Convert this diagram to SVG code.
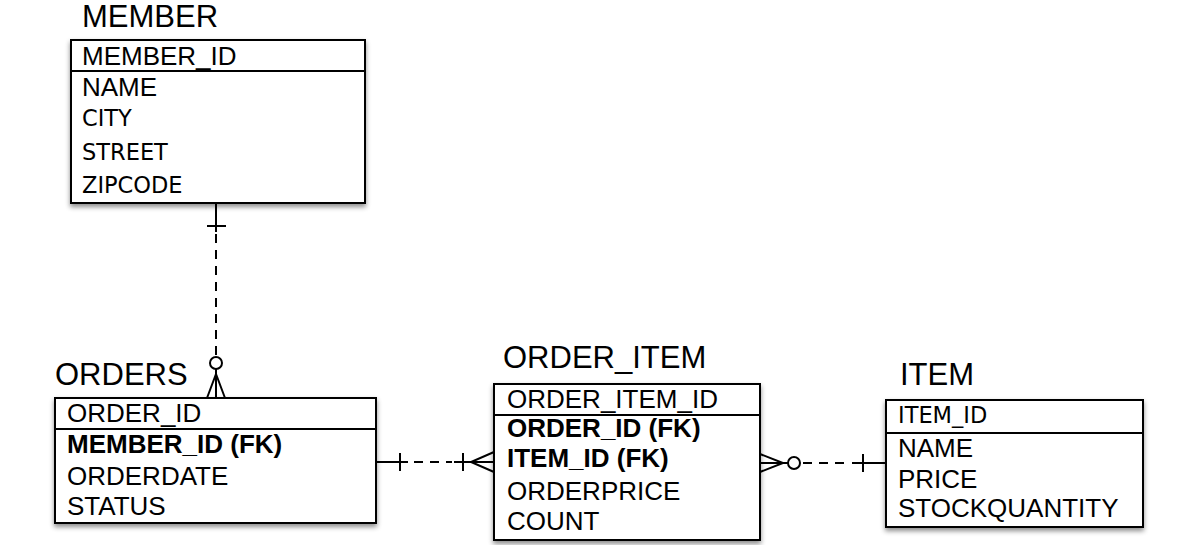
<svg xmlns="http://www.w3.org/2000/svg" width="1192" height="545" viewBox="0 0 1192 545">
<style>
.box{fill:#fff;stroke:#000;stroke-width:2;filter:url(#sh)}
.sep{stroke:#000;stroke-width:2}
.title{font-family:"Liberation Sans",Arial,sans-serif;font-size:31px;fill:#000}
.row{font-family:"Liberation Sans",Arial,sans-serif;font-size:26px;fill:#000}
.b{font-weight:bold}
.hum{font-family:"DejaVu Sans",sans-serif;font-size:22.5px;fill:#000}
.ln{stroke:#000;stroke-width:2;fill:none}
.dash{stroke:#000;stroke-width:2;fill:none;stroke-dasharray:9 7}
.circ{stroke:#000;stroke-width:2;fill:#fff}
</style>
<defs>
<filter id="sh" x="-10%" y="-10%" width="120%" height="130%">
<feDropShadow dx="0" dy="3" stdDeviation="2.5" flood-color="#000" flood-opacity="0.45"/>
</filter>
</defs>
<rect width="1192" height="545" fill="#fff"/>
<g id="connectors">
<!-- MEMBER - ORDERS -->
<line class="ln" x1="216" y1="203" x2="216" y2="232"/>
<line class="ln" x1="207" y1="226" x2="226" y2="226"/>
<line class="dash" x1="216" y1="234" x2="216" y2="356"/>
<circle class="circ" cx="216" cy="363" r="6"/>
<line class="ln" x1="216" y1="369" x2="216" y2="398"/>
<polyline class="ln" points="207,398 216,374 225,398"/>
<!-- ORDERS - ORDER_ITEM -->
<line class="ln" x1="376" y1="462" x2="408" y2="462"/>
<line class="ln" x1="400" y1="453" x2="400" y2="471"/>
<line class="dash" x1="414" y1="462" x2="452" y2="462"/>
<line class="ln" x1="454" y1="462" x2="494" y2="462"/>
<line class="ln" x1="463" y1="453" x2="463" y2="471"/>
<polyline class="ln" points="494,452 471,462 494,472"/>
<!-- ORDER_ITEM - ITEM -->
<polyline class="ln" points="760,454 783,463 760,472"/>
<line class="ln" x1="760" y1="463" x2="788" y2="463"/>
<circle class="circ" cx="794" cy="463" r="6"/>
<line class="dash" x1="803" y1="463" x2="850" y2="463"/>
<line class="ln" x1="852" y1="463" x2="886" y2="463"/>
<line class="ln" x1="863" y1="454" x2="863" y2="472"/>
</g>
<g id="member">
<text class="title" x="82" y="27" font-size="30">MEMBER</text>
<rect class="box" x="71" y="40" width="294" height="163"/>
<line class="sep" x1="71" y1="71" x2="365" y2="71"/>
<text class="row" x="82" y="65">MEMBER_ID</text>
<text class="row" x="82" y="96">NAME</text>
<text class="hum" x="82" y="126">CITY</text>
<text class="hum" x="82" y="160">STREET</text>
<text class="hum" x="82" y="193">ZIPCODE</text>
</g>
<g id="orders">
<text class="title" x="55" y="385">ORDERS</text>
<rect class="box" x="55" y="398" width="321" height="125"/>
<line class="sep" x1="55" y1="429" x2="376" y2="429"/>
<text class="row" x="67" y="422">ORDER_ID</text>
<text class="row b" x="67" y="453">MEMBER_ID (FK)</text>
<text class="row" x="67" y="485">ORDERDATE</text>
<text class="row" x="67" y="515">STATUS</text>
</g>
<g id="order_item">
<text class="title" x="503" y="368">ORDER_ITEM</text>
<rect class="box" x="494" y="384" width="266" height="156"/>
<line class="sep" x1="494" y1="415" x2="760" y2="415"/>
<text class="row" x="507" y="408">ORDER_ITEM_ID</text>
<text class="row b" x="507" y="437">ORDER_ID (FK)</text>
<text class="row b" x="507" y="467">ITEM_ID (FK)</text>
<text class="row" x="507" y="500">ORDERPRICE</text>
<text class="row" x="507" y="530">COUNT</text>
</g>
<g id="item">
<text class="title" x="900" y="385">ITEM</text>
<rect class="box" x="886" y="400" width="257" height="127"/>
<line class="sep" x1="886" y1="433" x2="1143" y2="433"/>
<text class="hum" x="898" y="423">ITEM_ID</text>
<text class="row" x="898" y="457">NAME</text>
<text class="row" x="898" y="488">PRICE</text>
<text class="row" x="898" y="517">STOCKQUANTITY</text>
</g>
</svg>
